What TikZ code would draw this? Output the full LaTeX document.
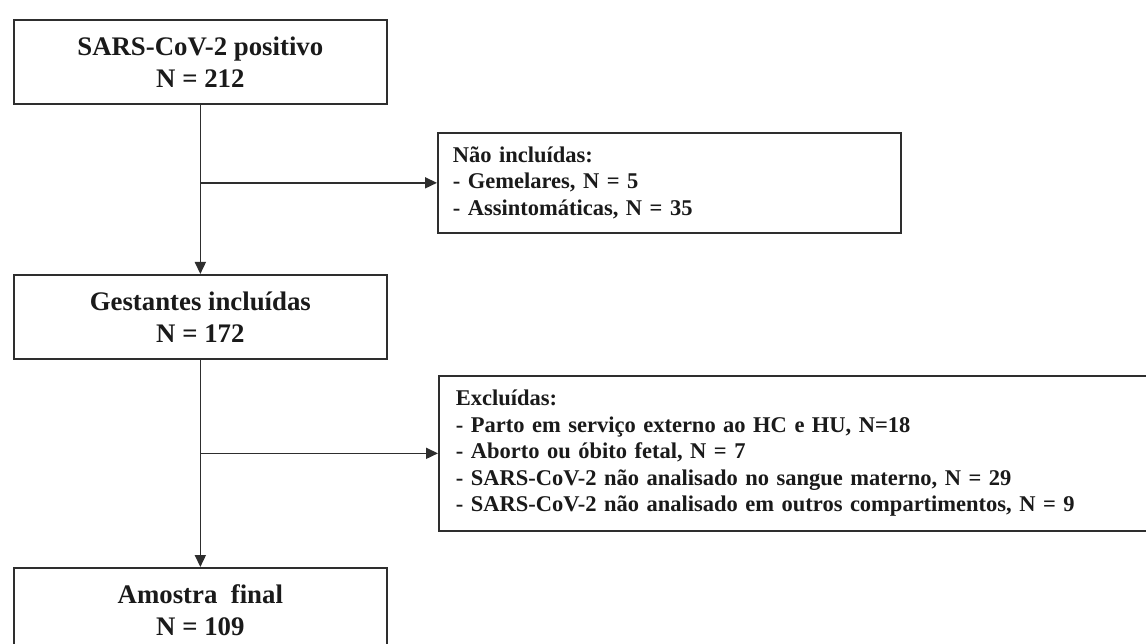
\documentclass[tikz,border=0pt]{standalone}
\usepackage{fontspec}
\setmainfont{Liberation Serif}
\usetikzlibrary{arrows.meta}
\definecolor{edgecol}{HTML}{2E2E2E}
\definecolor{txtcol}{HTML}{1A1A1A}
\begin{document}
\begin{tikzpicture}[x=1pt,y=-1pt,
  mainbox/.style={draw=edgecol, line width=1.7pt, rectangle, minimum width=373pt, minimum height=84pt,
     inner sep=0pt, align=center, text=txtcol, font=\bfseries\fontsize{26.8}{32}\selectfont},
  sidebox/.style={draw=edgecol, line width=1.7pt, rectangle, inner ysep=0pt, align=left, text=txtcol,
     font=\bfseries\fontsize{22.5}{26.5}\selectfont},
  conn/.style={draw=edgecol, line width=1.6pt},
  arr/.style={conn, -{Triangle[length=12pt,width=11pt]}}]
\useasboundingbox (0,0) rectangle (1146,644);
\fill[white] (0,0) rectangle (1146,644);

\node[mainbox, anchor=north west] (b1) at (13,19) {SARS-CoV-2 positivo\\N = 212};
\node[mainbox, anchor=north west] (b2) at (13,274) {Gestantes incluídas\\N = 172};
\node[mainbox, anchor=north west] (b3) at (13,567) {Amostra\ \ final\\N = 109};

\node[sidebox, anchor=north west, minimum height=100pt, inner xsep=15pt, text width=433pt] (nao) at (437,132)
  {Não incluídas:\\- Gemelares, N = 5\\- Assintomáticas, N = 35};
\node[sidebox, anchor=north west, minimum height=155pt, inner xsep=17pt, text width=700pt] (exc) at (438,375)
  {Excluídas:\\- Parto em serviço externo ao HC e HU, N=18\\- Aborto ou óbito fetal, N = 7\\- SARS-CoV-2 não analisado no sangue materno, N = 29\\- SARS-CoV-2 não analisado em outros compartimentos, N = 9};

\coordinate (j1) at (b1.south |- nao.west);
\coordinate (j2) at (b2.south |- exc.west);
\draw[arr] (b1.south) -- (b2.north);
\draw[arr] (j1) -- (nao.west);
\draw[arr] (b2.south) -- (b3.north);
\draw[arr] (j2) -- (exc.west);
\end{tikzpicture}
\end{document}
